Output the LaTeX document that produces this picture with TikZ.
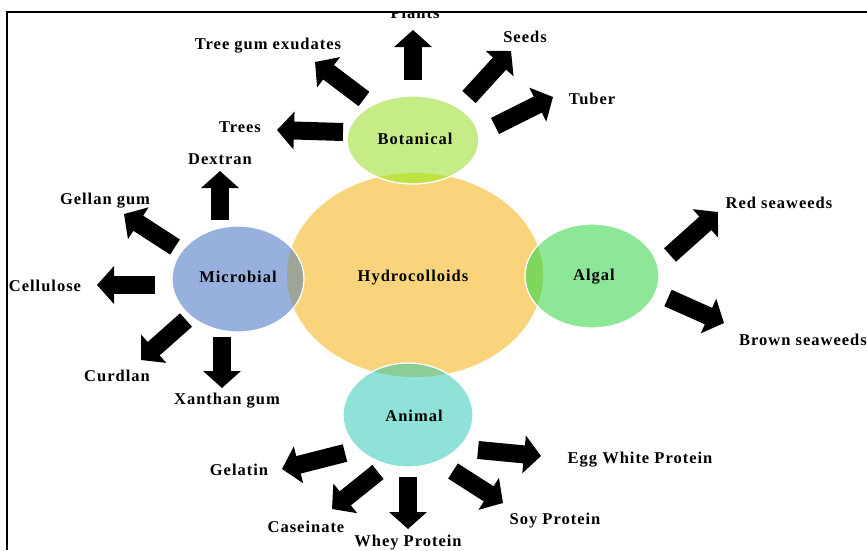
\documentclass[tikz,border=0pt]{standalone}
\usepackage{fontspec}
\setmainfont{Liberation Serif}
\usetikzlibrary{arrows.meta}

\definecolor{hydrofill}{RGB}{250,212,125}
\definecolor{botfill}{RGB}{198,236,135}
\definecolor{botover}{RGB}{192,226,66}
\definecolor{micfill}{RGB}{152,176,222}
\definecolor{micover}{RGB}{158,164,150}
\definecolor{algfill}{RGB}{142,230,152}
\definecolor{algover}{RGB}{126,214,92}
\definecolor{anifill}{RGB}{142,226,216}
\definecolor{aniover}{RGB}{138,206,150}

\newcommand{\lbl}{\fontsize{16.5}{18}\selectfont\bfseries\addfontfeature{LetterSpace=6}}

\begin{document}
\begin{tikzpicture}[x=1pt,y=-1pt]
  \tikzstyle{txt}=[font=\lbl,inner sep=0pt]
  \tikzstyle{blk}=[line width=18pt,-{Triangle[length=17pt,width=37pt]}]
  \useasboundingbox (0,0) rectangle (867,550);
  \begin{scope}
  \clip (7,12) rectangle (867,550);
  % centre and the four groups
  \fill[hydrofill] (415,275) ellipse [x radius=128,y radius=102];
  \fill[botfill,draw=white,line width=1.2pt] (413,140) ellipse [x radius=66,y radius=44];
  \fill[micfill,draw=white,line width=1.2pt] (238,279) ellipse [x radius=66,y radius=53];
  \fill[algfill,draw=white,line width=1.2pt] (592,276) ellipse [x radius=67,y radius=52];
  \fill[anifill,draw=white,line width=1.2pt] (408,415) ellipse [x radius=65,y radius=52];
  \begin{scope}
    \clip (415,275) ellipse [x radius=128,y radius=102];
    \fill[botover] (413,140) ellipse [x radius=65,y radius=43];
    \fill[micover] (238,279) ellipse [x radius=65,y radius=52];
    \fill[algover] (592,276) ellipse [x radius=66,y radius=51];
    \fill[aniover] (408,415) ellipse [x radius=64,y radius=51];
  \end{scope}
  \node[txt] (hydro) at (413,278) {Hydrocolloids};
  \node[txt] (bot) at (415,139) {Botanical};
  \node[txt] (mic) at (238,277) {Microbial};
  \node[txt] (alg) at (594,277) {Algal};
  \node[txt] (ani) at (414,416) {Animal};
  % sources
  \node[txt] (plants) at (415,13) {Plants};
  \node[txt] (gum) at (268,46) {Tree gum exudates};
  \node[txt] (seeds) at (525,37) {Seeds};
  \node[txt] (tuber) at (592,99) {Tuber};
  \node[txt] (trees) at (240,127) {Trees};
  \node[txt] (dextran) at (220,159) {Dextran};
  \node[txt] (gellan) at (105,201) {Gellan gum};
  \node[txt] (cellulose) at (45,286) {Cellulose};
  \node[txt] (curdlan) at (117,376) {Curdlan};
  \node[txt] (xanthan) at (227,401) {Xanthan gum};
  \node[txt] (red) at (779,203) {Red seaweeds};
  \node[txt] (brown) at (803,340) {Brown seaweeds};
  \node[txt] (gelatin) at (239,470) {Gelatin};
  \node[txt] (caseinate) at (306,527) {Caseinate};
  \node[txt] (whey) at (408,543) {Whey Protein};
  \node[txt] (soy) at (555,521) {Soy Protein};
  \node[txt] (egg) at (640,460) {Egg White Protein};
  % block arrows
  \foreach \nm/\xa/\ya/\xb/\yb in {plants/413/80/413/30, gum/364/99/315/62,
      seeds/469/97/511/51, tuber/495/126/553/97, trees/343/132/277/130,
      dextran/220/220/220/171, gellan/175/247/124/214, cellulose/155/285/97/285,
      curdlan/186/320/141/360, xanthan/222/337/222/388,
      red/670/255/718/212, brown/668/298/724/323,
      gelatin/345/453/282/469, caseinate/378/472/332/509, whey/408/477/408/529,
      soy/453/471/503/503, egg/478/450/541/456}{
    \coordinate (\nm-s) at (\xa,\ya);
    \coordinate (\nm-e) at (\xb,\yb);
    \draw[blk] (\nm-s) -- (\nm-e);
  }
  \end{scope}
  \draw[line width=1.2pt] (867,12) -- (7,12) -- (7,550);
\end{tikzpicture}
\end{document}
